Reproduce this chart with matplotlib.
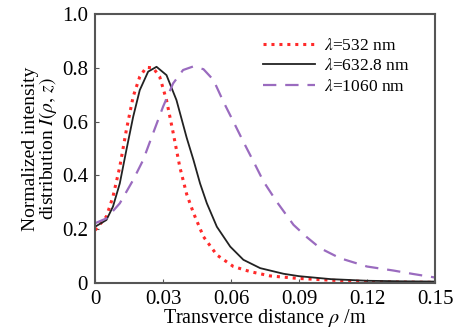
import matplotlib.pyplot as plt

plt.rcParams['font.family'] = ['Liberation Serif', 'DejaVu Serif']
plt.rcParams['mathtext.fontset'] = 'stix'

# curves
x_532 = [0, 0.005, 0.0079, 0.0109, 0.0138, 0.0168, 0.0197, 0.0226, 0.0256, 0.0285, 0.0315,
         0.0344, 0.0374, 0.0404, 0.0434, 0.0478, 0.0537, 0.061, 0.0684, 0.0772, 0.089, 0.104,
         0.12, 0.135, 0.15]
y_532 = [0.196, 0.247, 0.321, 0.432, 0.569, 0.693, 0.767, 0.802, 0.80, 0.767, 0.68,
         0.56, 0.43, 0.33, 0.26, 0.172, 0.104, 0.061, 0.042, 0.026, 0.017, 0.01,
         0.005, 0.003, 0.002]

x_633 = [0, 0.005, 0.0079, 0.0109, 0.0138, 0.0168, 0.0197, 0.0234, 0.0271, 0.0315, 0.0359,
         0.0404, 0.0434, 0.0463, 0.0493, 0.0537, 0.0596, 0.0654, 0.0728, 0.0831, 0.09, 0.104,
         0.12, 0.135, 0.15]
y_633 = [0.209, 0.234, 0.284, 0.37, 0.494, 0.618, 0.717, 0.786, 0.804, 0.773, 0.68,
         0.54, 0.457, 0.37, 0.296, 0.209, 0.135, 0.086, 0.055, 0.034, 0.025, 0.014,
         0.008, 0.006, 0.005]

x_1060 = [0, 0.005, 0.0109, 0.0168, 0.0212, 0.0256, 0.03, 0.0344, 0.0388, 0.0432, 0.0478,
          0.0522, 0.0566, 0.061, 0.0654, 0.0699, 0.0743, 0.0801, 0.0875, 0.0934, 0.0993,
          0.108, 0.1199, 0.1316, 0.1404, 0.15]
y_1060 = [0.222, 0.24, 0.296, 0.383, 0.457, 0.557, 0.656, 0.742, 0.792, 0.805, 0.795,
          0.755, 0.674, 0.6, 0.525, 0.451, 0.377, 0.302, 0.216, 0.17, 0.129,
          0.092, 0.061, 0.046, 0.033, 0.02]

fig = plt.figure(figsize=(4.66, 3.36), dpi=100)
ax = fig.add_axes([0.204, 0.158, 0.730, 0.800])

ax.plot(x_532, y_532, color='#ff2a2a', linestyle=(0, (1, 1.6)), lw=2.2, label=r'$\lambda$=532 nm')
ax.plot(x_633, y_633, color='#222222', lw=1.3, label=r'$\lambda$=632.8 nm')
ax.plot(x_1060, y_1060, color='#9a6bbf', linestyle=(0, (6, 4)), lw=1.6, label=r'$\lambda$=1060 nm')

ax.set_xlim(0, 0.15)
ax.set_ylim(0, 1.0)
ax.set_xticks([0, 0.03, 0.06, 0.09, 0.12, 0.15])
ax.set_xticklabels(['0', '0.03', '0.06', '0.09', '0.12', '0.15'])
ax.set_yticks([0, 0.2, 0.4, 0.6, 0.8, 1.0])
ax.set_yticklabels(['0', '0.2', '0.4', '0.6', '0.8', '1.0'])
ax.tick_params(direction='in', length=3, labelsize=15, color='#555555', pad=5)
for s in ax.spines.values():
    s.set_color('#555555')
    s.set_linewidth(1.5)

ax.set_xlabel(r'Transverce distance $\rho$ /m', fontsize=14.5, labelpad=-1)
ax.set_ylabel('Normalized intensity\ndistribution $I(\\rho,\\, z)$', fontsize=14, linespacing=0.9, labelpad=2)

ax.legend(loc='upper right', frameon=False, fontsize=12.5, handlelength=3.0,
          labelspacing=0.25, borderaxespad=0.5, handletextpad=0.5,
          bbox_to_anchor=(0.97, 0.97))

plt.savefig('out.png', dpi=100)
